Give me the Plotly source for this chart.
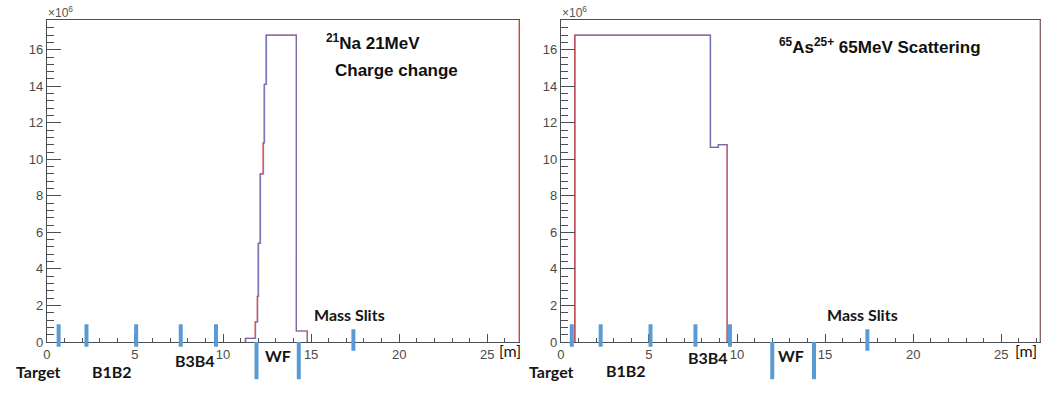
import plotly.graph_objects as go

W, H = 1042, 397

# ---------------- data ----------------
# Left panel: 21Na 21MeV charge change (values in units of 1e6)
na_blue_edges = [11.30, 11.85, 11.97, 12.02, 12.13, 12.30, 12.36, 12.47, 14.16, 14.78]
na_blue_vals = [0.2, 1.1, 2.5, 5.4, 9.2, 10.9, 14.1, 16.8, 0.6]
na_red_edges = [11.26, 11.82, 11.94, 11.99, 12.10, 12.27, 12.33, 12.44, 14.16, 14.78]
na_red_vals = [0.2, 1.1, 2.5, 5.4, 9.2, 10.9, 14.1, 16.8, 0.6]

# Right panel: 65As25+ 65MeV scattering
as_blue_edges = [0.82, 8.50, 8.95, 9.45]
as_blue_vals = [16.8, 10.65, 10.8]
as_red_edges = [0.78, 8.48, 8.93, 9.43]
as_red_vals = [16.8, 10.65, 10.8]

# Beam-line element positions [m]
left_elem_pos = [0.67, 2.25, 5.07, 7.6, 9.6, 11.9, 14.3, 17.4]
right_elem_pos = [0.62, 2.26, 5.09, 7.64, 9.6, 12.0, 14.37, 17.4]
elem_kind = ["std", "std", "std", "std", "std", "wf", "wf", "ms"]

x_ticks = [0, 5, 10, 15, 20, 25]
y_ticks = [0, 2, 4, 6, 8, 10, 12, 14, 16]

left_titles = ["<sup>21</sup>Na 21MeV", "Charge change"]
right_title = "<sup>65</sup>As<sup>25+</sup> 65MeV Scattering"
elem_labels = ["Target", "B1B2", "B3B4", "WF", "Mass Slits"]


def step_xy(edges, vals):
    xs = [edges[0]] + list(edges)
    ys = [0] + list(vals) + [0]
    return xs, ys


def px(x):
    return x / W


def py(y):
    return (H - y) / H


fig = go.Figure()

for edges, vals, color, xa, ya, op in [
    (na_red_edges, na_red_vals, "#e04a40", "x", "y", 1.0),
    (na_blue_edges, na_blue_vals, "#4a72d4", "x", "y", 0.7),
    (as_red_edges, as_red_vals, "#e04a40", "x2", "y2", 1.0),
    (as_blue_edges, as_blue_vals, "#4a72d4", "x2", "y2", 0.7),
]:
    xs, ys = step_xy(edges, vals)
    fig.add_trace(go.Scatter(x=xs, y=ys, mode="lines", line=dict(color=color, width=1.2, shape="hv"),
                             opacity=op, xaxis=xa, yaxis=ya, showlegend=False, hoverinfo="skip"))

axis_col = "#4a4f55"
tickfont = dict(family="Liberation Sans, Arial", size=13, color="#4a4a4a")

common_x = dict(range=[0, 26.8], tickvals=x_ticks, ticks="inside", ticklen=8, tickcolor=axis_col,
                minor=dict(dtick=1, ticks="inside", ticklen=4, tickcolor=axis_col),
                showline=True, linecolor=axis_col, linewidth=1, mirror=True,
                showgrid=False, zeroline=False, tickfont=tickfont, fixedrange=True)
common_y = dict(range=[0, 17.65], tickvals=y_ticks, ticks="inside", ticklen=14, tickcolor=axis_col,
                minor=dict(dtick=0.4, ticks="inside", ticklen=7, tickcolor=axis_col),
                showline=True, linecolor=axis_col, linewidth=1, mirror=True,
                showgrid=False, zeroline=False, tickfont=tickfont, fixedrange=True,
                domain=[py(349), py(20)])

fig.update_layout(
    width=W, height=H, margin=dict(l=0, r=0, t=0, b=0),
    paper_bgcolor="white", plot_bgcolor="white",
    xaxis=dict(common_x, domain=[px(43), px(517)], anchor="y"),
    yaxis=dict(common_y, anchor="x"),
    xaxis2=dict(common_x, domain=[px(559), px(1040)], anchor="y2", range=[0, 27.2]),
    yaxis2=dict(common_y, anchor="x2"),
)

shapes = []
# red right borders
shapes.append(dict(type="line", xref="paper", yref="paper", x0=px(517), x1=px(517), y0=py(349), y1=py(20),
                   line=dict(color="#d86a60", width=1)))
shapes.append(dict(type="line", xref="paper", yref="paper", x0=px(1040), x1=px(1040), y0=py(349), y1=py(20),
                   line=dict(color="#c87a74", width=1)))

ext = {"std": (331, 354), "wf": (349, 387), "ms": (336, 358)}
for xr, positions in [("x", left_elem_pos), ("x2", right_elem_pos)]:
    for pos, kind in zip(positions, elem_kind):
        y_top, y_bot = ext[kind]
        shapes.append(dict(type="line", xref=xr, yref="paper", x0=pos, x1=pos, y0=py(y_bot), y1=py(y_top),
                           line=dict(color="#5b9bd5", width=4), layer="above"))
fig.update_layout(shapes=shapes)

ann = []
lab_font = dict(family="Lato, Open Sans", size=16, color="#151515", weight="bold")
left_lab_pos = [(35, 379), (108, 379), (192, 368), (275, 363), (347, 321)]
right_lab_pos = [(550, 379), (624, 378), (707, 365), (790, 363), (862, 321)]
for positions in (left_lab_pos, right_lab_pos):
    for txt, (x, y) in zip(elem_labels, positions):
        ann.append(dict(text=txt, x=px(x), y=py(y), xref="paper", yref="paper", showarrow=False,
                        xanchor="center", yanchor="middle", font=lab_font))
for x in (508, 1026):
    ann.append(dict(text="[m]", x=px(x), y=py(358), xref="paper", yref="paper", showarrow=False,
                    xanchor="center", yanchor="middle", font=dict(family="Lato, Open Sans", size=16, color="#151515")))
title_font = dict(family="Liberation Sans, Arial", size=17, color="#111")
ann.append(dict(text="<b>" + left_titles[0] + "</b>", x=px(321), y=py(43), xref="paper", yref="paper",
                showarrow=False, xanchor="left", yanchor="middle", font=title_font))
ann.append(dict(text="<b>" + left_titles[1] + "</b>", x=px(330), y=py(72), xref="paper", yref="paper",
                showarrow=False, xanchor="left", yanchor="middle", font=title_font))
ann.append(dict(text="<b>" + right_title + "</b>", x=px(776), y=py(47), xref="paper", yref="paper",
                showarrow=False, xanchor="left", yanchor="middle", font=title_font))
for x in (42, 558):
    ann.append(dict(text="×10<sup>6</sup>", x=px(x), y=py(12), xref="paper", yref="paper", showarrow=False,
                    xanchor="left", yanchor="middle", font=dict(family="Liberation Sans, Arial", size=12, color="#555")))
fig.update_layout(annotations=ann)

fig.write_html("out.html")
